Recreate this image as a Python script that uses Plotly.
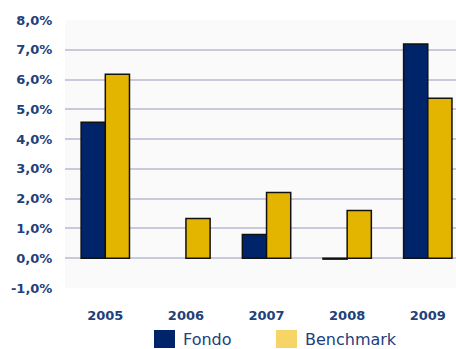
import plotly.graph_objects as go

years = ["2005", "2006", "2007", "2008", "2009"]
fondo = [4.57, None, 0.80, -0.03, 7.19]
benchmark = [6.18, 1.33, 2.21, 1.60, 5.37]
y_ticks = [-1, 0, 1, 2, 3, 4, 5, 6, 7, 8]
y_labels = ["-1,0%", "0,0%", "1,0%", "2,0%", "3,0%", "4,0%", "5,0%", "6,0%", "7,0%", "8,0%"]
series_names = ["Fondo", "Benchmark"]

NAVY = "#00246a"
GOLD = "#e3b400"
GOLD_LEGEND = "#f6d566"
TXT = "#22407a"

fig = go.Figure()
fig.add_trace(go.Bar(x=years, y=fondo, name=series_names[0], marker=dict(color=NAVY, line=dict(color="#111111", width=1.5)), showlegend=False))
fig.add_trace(go.Bar(x=years, y=benchmark, name=series_names[1], marker=dict(color=GOLD, line=dict(color="#111111", width=1.5)), showlegend=False))

fig.update_layout(
    width=456, height=349,
    margin=dict(l=65, r=0, t=20, b=61),
    paper_bgcolor="white",
    plot_bgcolor="#fafafa",
    barmode="group", bargap=0.4, bargroupgap=0,
    font=dict(family="DejaVu Sans", color=TXT),
    xaxis=dict(type="category", range=[-0.5, 4.35], showgrid=False, zeroline=False, showline=False,
               ticks="outside", ticklen=15, tickcolor="rgba(0,0,0,0)",
               tickfont=dict(size=13, color=TXT, family="DejaVu Sans", weight="bold")),
    yaxis=dict(range=[-1, 8], tickvals=y_ticks, ticktext=y_labels, showgrid=True,
               gridcolor="#c9c9dd", gridwidth=2, zeroline=False, showline=False,
               ticks="outside", ticklen=9, tickcolor="rgba(0,0,0,0)",
               tickfont=dict(size=13, color=TXT, family="DejaVu Sans", weight="bold")),
    showlegend=False,
)

# manual legend
legend_items = [(series_names[0], NAVY, 154), (series_names[1], GOLD_LEGEND, 276)]
for name, col, x0 in legend_items:
    fig.add_shape(type="rect", xref="paper", yref="paper",
                  x0=(x0 - 65) / 391, x1=(x0 + 21 - 65) / 391,
                  y0=(288 - 348) / 268, y1=(288 - 330) / 268,
                  fillcolor=col, line=dict(width=0))
    fig.add_annotation(text=name, xref="paper", yref="paper",
                       x=(x0 + 27 - 65) / 391, y=(288 - 339) / 268,
                       xanchor="left", yanchor="middle", showarrow=False,
                       font=dict(size=16, color=TXT, family="DejaVu Sans"))

fig.write_html("out.html")
